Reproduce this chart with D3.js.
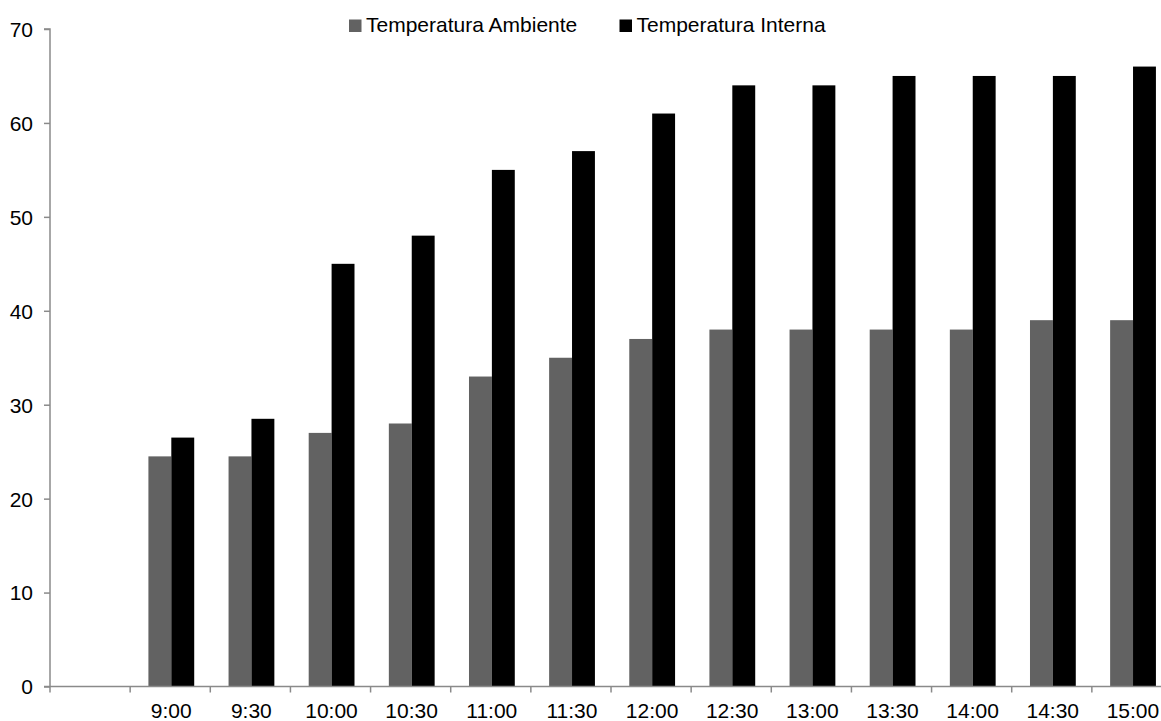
<!DOCTYPE html>
<html>
<head>
<meta charset="utf-8">
<script src="https://cdn.jsdelivr.net/npm/d3@7"></script>
<style>
  html, body { margin: 0; padding: 0; background: #fff; }
  svg { display: block; }
  text { font-family: "Liberation Sans", Arial, sans-serif; fill: #000; }
</style>
</head>
<body>
<svg id="chart" width="1161" height="721"></svg>
<script>
// ---- data ----
const categories = ["", "9:00", "9:30", "10:00", "10:30", "11:00", "11:30", "12:00", "12:30", "13:00", "13:30", "14:00", "14:30", "15:00"];
const ambiente   = [null, 24.5, 24.5, 27, 28, 33, 35, 37, 38, 38, 38, 38, 39, 39];
const interna    = [null, 26.5, 28.5, 45, 48, 55, 57, 61, 64, 64, 65, 65, 65, 66];
const seriesNames = ["Temperatura Ambiente", "Temperatura Interna"];
const seriesColors = ["#626262", "#000000"];
const yTicks = [0, 10, 20, 30, 40, 50, 60, 70];

// ---- layout ----
const svg = d3.select("#chart");
const plotLeft = 50, plotRight = 1172, plotTop = 29, plotBottom = 686.5;
const fontSize = 21;
const axisColor = "#8a8a8a";

const x = d3.scaleBand().domain(categories.map((c, i) => i)).range([plotLeft, plotRight]).padding(0);
const bw = x.bandwidth();
const inner = d3.scaleBand().domain([0, 1]).range([0.228 * bw, 0.228 * bw + 2 * bw / 3.5]).padding(0);
const y = d3.scaleLinear().domain([0, 70]).range([plotBottom, plotTop]);

// bars
const series = [ambiente, interna];
series.forEach((vals, si) => {
  svg.append("g").selectAll("rect")
    .data(vals.map((v, i) => ({ v, i })).filter(d => d.v != null))
    .join("rect")
    .attr("x", d => x(d.i) + inner(si))
    .attr("width", inner.bandwidth())
    .attr("y", d => y(d.v))
    .attr("height", d => y(0) - y(d.v))
    .attr("fill", seriesColors[si]);
});

// y axis
const yAxis = d3.axisLeft(y).tickValues(yTicks).tickSize(6).tickPadding(11).tickFormat(d3.format("d"));
const gy = svg.append("g").attr("transform", `translate(${plotLeft},0)`).call(yAxis);
gy.select(".domain").attr("stroke", axisColor).attr("stroke-width", 1.5).attr("d", `M-6,${plotTop}H0V${plotBottom}`);
gy.selectAll(".tick line").attr("stroke", axisColor).attr("stroke-width", 1.5);
gy.selectAll(".tick text").attr("font-size", fontSize).attr("font-family", '"Liberation Sans", Arial, sans-serif').attr("fill", "#000").attr("dy", "0.35em");

// x axis
const gx = svg.append("g").attr("transform", `translate(0,${plotBottom})`);
gx.append("line").attr("x1", plotLeft - 6).attr("x2", plotRight).attr("y1", 0).attr("y2", 0)
  .attr("stroke", axisColor).attr("stroke-width", 1.5);
const tickPos = categories.map((c, i) => x(i)).concat([plotRight]);
gx.selectAll("line.tk").data(tickPos).join("line").attr("class", "tk")
  .attr("x1", d => d).attr("x2", d => d).attr("y1", 0).attr("y2", 6)
  .attr("stroke", axisColor).attr("stroke-width", 1.5);
gx.selectAll("text").data(categories.map((c, i) => ({ c, i }))).join("text")
  .attr("x", d => x(d.i) + bw / 2 + 1)
  .attr("y", 31.5)
  .attr("text-anchor", "middle")
  .attr("font-size", fontSize)
  .text(d => d.c);

// legend
const legendX = [349, 619.5];
const lg = svg.append("g");
seriesNames.forEach((name, i) => {
  lg.append("rect").attr("x", legendX[i]).attr("y", 19.5).attr("width", 12.5).attr("height", 12.5).attr("fill", seriesColors[i]);
  lg.append("text").attr("x", legendX[i] + 17).attr("y", 32).attr("font-size", fontSize).text(name);
});
</script>
</body>
</html>
